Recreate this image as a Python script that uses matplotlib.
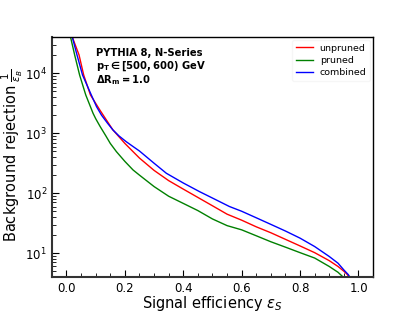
#!/usr/bin/env python3
import matplotlib
matplotlib.use('Agg')
import matplotlib.pyplot as plt

# values (signal efficiency, background rejection)
unpruned_x = [0.020, 0.043, 0.059, 0.082, 0.114, 0.159, 0.200, 0.228, 0.250,
              0.300, 0.350, 0.400, 0.450, 0.500, 0.550, 0.600, 0.650, 0.700,
              0.750, 0.800, 0.850, 0.900, 0.930, 0.950, 0.962, 0.975]
unpruned_y = [40000, 20200, 9330, 4350, 2450, 1135, 676, 493, 385,
              240, 162, 117, 85, 61.7, 44.7, 35.5, 27.5, 21.9,
              17.0, 13.2, 10.2, 7.5, 6.0, 5.0, 4.4, 3.5]

pruned_x = [0.014, 0.028, 0.045, 0.066, 0.091, 0.100, 0.115, 0.135, 0.150,
            0.171, 0.200, 0.228, 0.250, 0.300, 0.350, 0.400, 0.450, 0.500,
            0.550, 0.600, 0.650, 0.700, 0.750, 0.800, 0.850, 0.900, 0.930,
            0.945, 0.958]
pruned_y = [40000, 20200, 9330, 4350, 2150, 1750, 1300, 900, 676,
            493, 339, 244, 200, 129, 89, 67.6, 51.3, 37.2,
            28.8, 24.5, 19.5, 15.5, 12.6, 10.2, 8.3, 6.0, 4.8,
            4.1, 3.5]

combined_x = [0.020, 0.036, 0.055, 0.085, 0.103, 0.120, 0.140, 0.159, 0.180,
              0.205, 0.228, 0.250, 0.300, 0.342, 0.400, 0.456, 0.500, 0.558,
              0.600, 0.650, 0.700, 0.750, 0.800, 0.850, 0.900, 0.930, 0.950,
              0.965, 0.978]
combined_y = [40000, 20200, 9330, 4350, 2770, 2000, 1480, 1135, 900,
              720, 600, 505, 316, 215, 148, 106, 83, 60,
              50, 38.9, 30.2, 23.4, 17.8, 12.9, 8.8, 6.8, 5.25,
              4.4, 3.5]

fig = plt.figure(figsize=(4.15, 3.12), dpi=100)
ax = fig.add_axes([0.125, 0.112, 0.774, 0.769])

ax.plot(unpruned_x, unpruned_y, color='r', lw=1, label='unpruned')
ax.plot(pruned_x, pruned_y, color='g', lw=1, label='pruned')
ax.plot(combined_x, combined_y, color='b', lw=1, label='combined')

ax.set_yscale('log')
ax.set_xlim(-0.05, 1.05)
ax.set_ylim(4, 40000)
ax.set_xticks([0.0, 0.2, 0.4, 0.6, 0.8, 1.0])
ax.xaxis.set_minor_locator(matplotlib.ticker.MultipleLocator(0.05))
ax.tick_params(which='both', direction='in', top=False, right=False, labelsize=8.5)
ax.tick_params(which='major', length=5)
ax.tick_params(which='minor', length=3)

for s in ['left', 'bottom']:
    ax.spines[s].set_color('#333333')
    ax.spines[s].set_linewidth(1.5)
for s in ['top', 'right']:
    ax.spines[s].set_linewidth(1.0)

ax.set_xlabel(r'Signal efficiency $\epsilon_S$', fontsize=10.5)
ax.xaxis.set_label_coords(0.5, -0.07)
ax.xaxis.label.set_va('top')
ax.set_ylabel(r'Background rejection $\frac{1}{\epsilon_B}$', fontsize=10.5)
ax.yaxis.set_label_coords(-0.085, 0.51)

info = ['PYTHIA 8, N-Series',
        r'$\mathbf{p_T \in [500, 600)}$ GeV',
        r'$\mathbf{\Delta R_m = 1.0}$']
for line, yy in zip(info, [0.922, 0.867, 0.810]):
    ax.text(0.136, yy, line, transform=ax.transAxes, fontsize=7.2,
            fontweight='bold', va='baseline', ha='left')

leg = ax.legend(loc='upper right', fontsize=6.8, frameon=True, borderaxespad=0.3,
                handlelength=1.8, handletextpad=0.7, labelspacing=0.35)
leg.get_frame().set_edgecolor('#f4f4f4')

plt.savefig('out.png', dpi=100)
plt.close()
